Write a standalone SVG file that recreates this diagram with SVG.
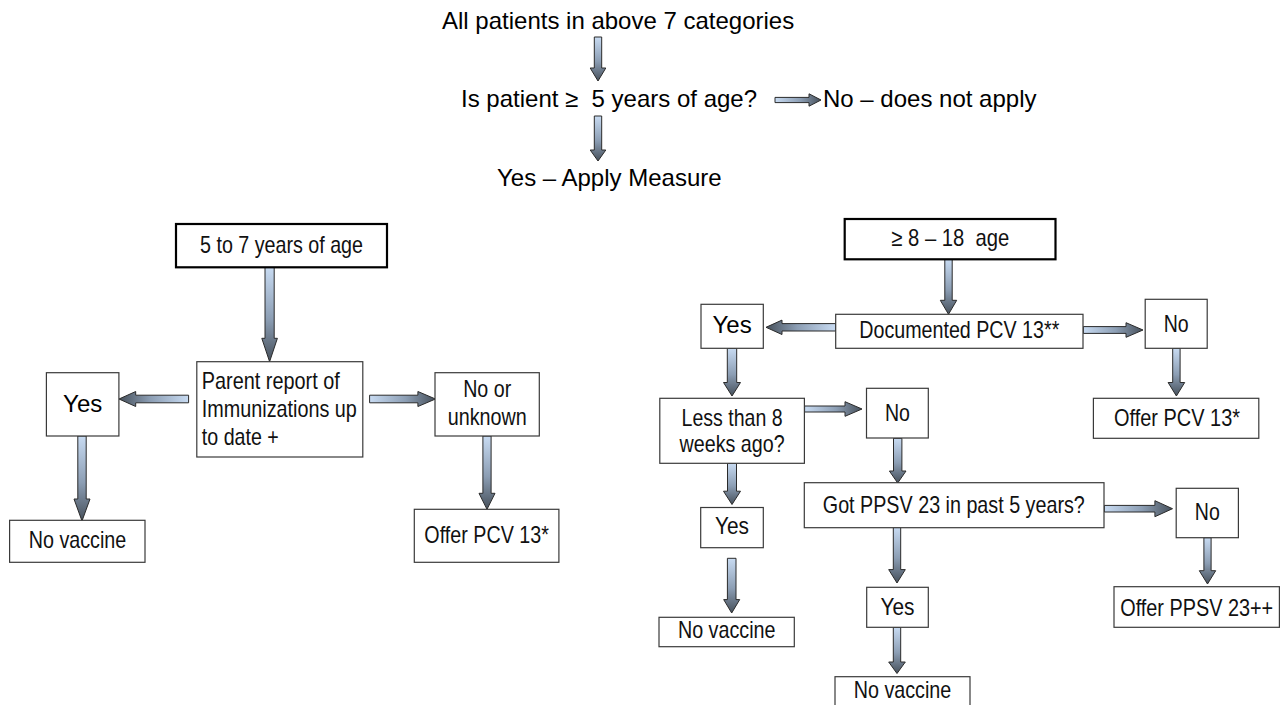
<svg xmlns="http://www.w3.org/2000/svg" width="1282" height="705" viewBox="0 0 1282 705">
<style>
.bg{fill:#ffffff}
.box{fill:#ffffff;stroke:#3a3a3a;stroke-width:1.2}
.tbox{fill:#ffffff;stroke:#000000;stroke-width:2.2}
.t{font-family:"Liberation Sans",Arial,sans-serif;font-size:24px;fill:#000000}
.n{font-family:"Liberation Sans Narrow","Liberation Sans",Arial,sans-serif;font-size:24px;fill:#111111}
.c{text-anchor:middle}
.ad{fill:url(#gDown);stroke:#2a2a2a;stroke-width:1}
.ar{fill:url(#gRight);stroke:#2a2a2a;stroke-width:1}
.al{fill:url(#gLeft);stroke:#2a2a2a;stroke-width:1}
</style>
<defs>
<linearGradient id="gDown" x1="0" y1="0" x2="0" y2="1">
<stop offset="0" stop-color="#c8dbf2"/>
<stop offset="0.55" stop-color="#8c9eb4"/>
<stop offset="1" stop-color="#46505b"/>
</linearGradient>
<linearGradient id="gRight" x1="0" y1="0" x2="1" y2="0">
<stop offset="0" stop-color="#c8dbf2"/>
<stop offset="0.55" stop-color="#8c9eb4"/>
<stop offset="1" stop-color="#46505b"/>
</linearGradient>
<linearGradient id="gLeft" x1="1" y1="0" x2="0" y2="0">
<stop offset="0" stop-color="#c8dbf2"/>
<stop offset="0.55" stop-color="#8c9eb4"/>
<stop offset="1" stop-color="#46505b"/>
</linearGradient>
</defs>
<rect class="bg" x="0" y="0" width="1282" height="705"/>

<g id="connectors">
<path class="ad" d="M594.3,37 H601.7 V68 H605.8 L598,81 L590.2,68 H594.3 Z"/>
<path class="ad" d="M594.3,116 H601.7 V150 H605.8 L598,161 L590.2,150 H594.3 Z"/>
<path class="ar" d="M775,97.4 H809 V93.8 L821,100 L809,106.2 V102.6 H775 Z"/>

<path class="ad" d="M265,267.3 H274.2 V338.3 H277.4 L269.6,361.7 L261.8,338.3 H265 Z"/>
<path class="al" d="M188.6,395.2 H135.7 V391.5 L119,399 L135.7,406.5 V402.8 H188.6 Z"/>
<path class="ar" d="M369.6,395.2 H417.9 V391.5 L435.5,399 L417.9,406.5 V402.8 H369.6 Z"/>
<path class="ad" d="M77.8,436 H86.2 V499 H90 L82,521 L74,499 H77.8 Z"/>
<path class="ad" d="M482.9,436 H491.1 V493.3 H495 L487,509.3 L479,493.3 H482.9 Z"/>

<path class="ad" d="M944.8,259.3 H952.2 V300.3 H956.7 L948.5,314.3 L940.3,300.3 H944.8 Z"/>
<path class="al" d="M835.7,323.6 H782 V320.1 L766,327.3 L782,334.5 V331 H835.7 Z"/>
<path class="ar" d="M1083.3,326.6 H1126 V322.7 L1143,330 L1126,337.3 V333.4 H1083.3 Z"/>
<path class="ad" d="M1172.7,348.3 H1180.1 V382.5 H1184.7 L1176.4,396 L1168.1,382.5 H1172.7 Z"/>
<path class="ad" d="M727.3,348.3 H736.7 V382.5 H740.5 L732,396 L723.5,382.5 H727.3 Z"/>
<path class="ar" d="M804.6,406 H845 V401.7 L862,409 L845,416.3 V412 H804.6 Z"/>
<path class="ad" d="M893.5,438.3 H901.9 V471 H906 L897.7,483 L889.4,471 H893.5 Z"/>
<path class="ar" d="M1104.3,505.4 H1154.9 V500.7 L1172.5,508.7 L1154.9,516.7 V512 H1104.3 Z"/>
<path class="ad" d="M1203.9,537.7 H1211.1 V570.7 H1215.7 L1207.5,584 L1199.3,570.7 H1203.9 Z"/>
<path class="ad" d="M727.5,463.3 H736.5 V491.2 H740.5 L732,504.5 L723.5,491.2 H727.5 Z"/>
<path class="ad" d="M727.4,558.3 H736 V599.6 H739.7 L731.7,613 L723.7,599.6 H727.4 Z"/>
<path class="ad" d="M893.3,527.3 H900.7 V569.6 H905.3 L897,583 L888.7,569.6 H893.3 Z"/>
<path class="ad" d="M893.3,627.3 H900.7 V662 H905.3 L897,673.5 L888.7,662 H893.3 Z"/>
</g>

<g id="n-all"><text class="t" x="442" y="29">All patients in above 7 categories</text></g>
<g id="n-age5"><text class="t" x="461" y="107" xml:space="preserve">Is patient ≥  5 years of age?</text></g>
<g id="n-notapply"><text class="t" x="823" y="107">No – does not apply</text></g>
<g id="n-apply"><text class="t" x="497" y="186">Yes – Apply Measure</text></g>

<g id="n-5to7">
<rect class="tbox" x="176" y="224" width="211" height="43.3"/>
<text class="n c" x="281.5" y="253" textLength="163" lengthAdjust="spacingAndGlyphs">5 to 7 years of age</text>
</g>
<g id="n-parent">
<rect class="box" x="196.8" y="361.7" width="166" height="95.3"/>
<text class="n" x="201.8" y="388.5" textLength="138" lengthAdjust="spacingAndGlyphs">Parent report of</text>
<text class="n" x="201.8" y="416.8" textLength="155" lengthAdjust="spacingAndGlyphs">Immunizations up</text>
<text class="n" x="201.8" y="445" textLength="77" lengthAdjust="spacingAndGlyphs">to date +</text>
</g>
<g id="n-yes-left">
<rect class="box" x="46.4" y="372.7" width="72.5" height="63.3"/>
<text class="t c" x="82.7" y="411.7">Yes</text>
</g>
<g id="n-nounknown">
<rect class="box" x="435" y="372.7" width="104.3" height="63.3"/>
<text class="n c" x="487.2" y="396.7" textLength="48" lengthAdjust="spacingAndGlyphs">No or</text>
<text class="n c" x="487.2" y="425" textLength="79" lengthAdjust="spacingAndGlyphs">unknown</text>
</g>
<g id="n-novaccine-left">
<rect class="box" x="9.6" y="520.3" width="135.4" height="42"/>
<text class="n c" x="77.5" y="548.3" textLength="97.5" lengthAdjust="spacingAndGlyphs">No vaccine</text>
</g>
<g id="n-offerpcv-left">
<rect class="box" x="414.3" y="509.3" width="144.6" height="53"/>
<text class="n c" x="486.6" y="543.3" textLength="124.5" lengthAdjust="spacingAndGlyphs">Offer PCV 13*</text>
</g>

<g id="n-8to18">
<rect class="tbox" x="844.7" y="219" width="210.8" height="40.3"/>
<text class="n c" x="950.3" y="246" textLength="118" lengthAdjust="spacingAndGlyphs" xml:space="preserve">≥ 8 – 18  age</text>
</g>
<g id="n-documented">
<rect class="box" x="835.7" y="314.3" width="247.3" height="34"/>
<text class="n c" x="959.3" y="337.5" textLength="200" lengthAdjust="spacingAndGlyphs">Documented PCV 13**</text>
</g>
<g id="n-yes-doc">
<rect class="box" x="701" y="304.3" width="62.3" height="44"/>
<text class="t c" x="732.1" y="333.3">Yes</text>
</g>
<g id="n-no-doc">
<rect class="box" x="1145.2" y="299.3" width="62" height="49"/>
<text class="n c" x="1176.2" y="332" textLength="25" lengthAdjust="spacingAndGlyphs">No</text>
</g>
<g id="n-offerpcv-right">
<rect class="box" x="1093.4" y="398.3" width="165.4" height="40"/>
<text class="n c" x="1177" y="426" textLength="126" lengthAdjust="spacingAndGlyphs">Offer PCV 13*</text>
</g>
<g id="n-less8">
<rect class="box" x="659.8" y="398.3" width="144.6" height="65"/>
<text class="n c" x="732.1" y="426" textLength="101" lengthAdjust="spacingAndGlyphs">Less than 8</text>
<text class="n c" x="732.1" y="451.5" textLength="105" lengthAdjust="spacingAndGlyphs">weeks ago?</text>
</g>
<g id="n-no-less">
<rect class="box" x="866.5" y="388.3" width="61.8" height="49.7"/>
<text class="n c" x="897.4" y="420.7" textLength="25" lengthAdjust="spacingAndGlyphs">No</text>
</g>
<g id="n-gotppsv">
<rect class="box" x="804.3" y="482.7" width="299.7" height="45"/>
<text class="n c" x="953.8" y="512.7" textLength="262" lengthAdjust="spacingAndGlyphs">Got PPSV 23 in past 5 years?</text>
</g>
<g id="n-no-ppsv">
<rect class="box" x="1176.2" y="488.3" width="62.2" height="49.4"/>
<text class="n c" x="1207.3" y="520" textLength="25" lengthAdjust="spacingAndGlyphs">No</text>
</g>
<g id="n-offerppsv">
<rect class="box" x="1114" y="586.7" width="165.4" height="40.6"/>
<text class="n c" x="1196.7" y="615.7" textLength="153" lengthAdjust="spacingAndGlyphs">Offer PPSV 23++</text>
</g>
<g id="n-yes-less">
<rect class="box" x="700.7" y="507.5" width="62.6" height="40.2"/>
<text class="n c" x="732" y="534.3" textLength="34" lengthAdjust="spacingAndGlyphs">Yes</text>
</g>
<g id="n-novaccine-mid">
<rect class="box" x="659" y="617.3" width="135.3" height="29.4"/>
<text class="n c" x="726.7" y="638.3" textLength="97.5" lengthAdjust="spacingAndGlyphs">No vaccine</text>
</g>
<g id="n-yes-ppsv">
<rect class="box" x="866.7" y="587.3" width="61.6" height="40"/>
<text class="n c" x="897.5" y="615" textLength="34" lengthAdjust="spacingAndGlyphs">Yes</text>
</g>
<g id="n-novaccine-bottom">
<rect class="box" x="835" y="676.7" width="135" height="40"/>
<text class="n c" x="902.5" y="698" textLength="97.5" lengthAdjust="spacingAndGlyphs">No vaccine</text>
</g>
</svg>
